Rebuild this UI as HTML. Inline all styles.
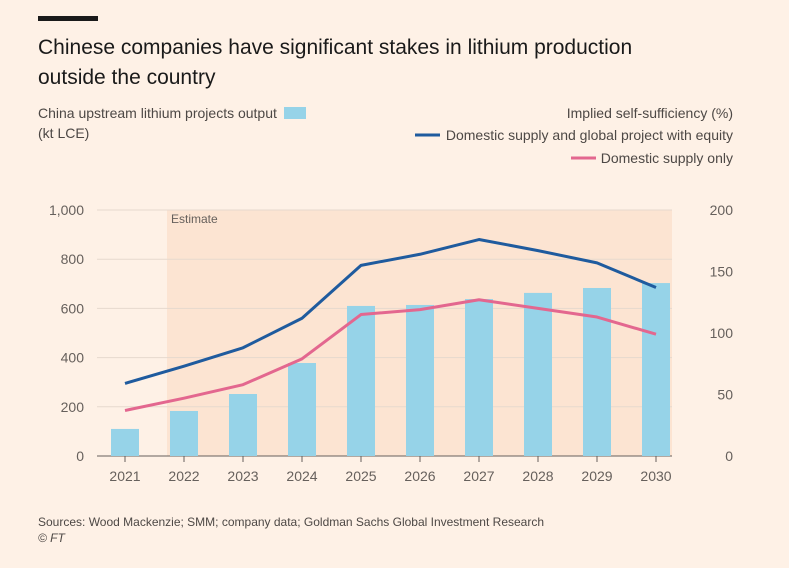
<!DOCTYPE html>
<html><head><meta charset="utf-8"><style>
body{margin:0;background:#fef1e6;width:789px;height:563px;overflow:hidden;font-family:"Liberation Sans",sans-serif;}
svg text{font-family:"Liberation Sans",sans-serif;}
</style></head><body>
<svg id="c" width="789" height="563">
<rect x="38" y="16" width="60" height="5" fill="#1a1a1a"/>
<text x="38" y="54" font-size="21" fill="#1a1a1a">Chinese companies have significant stakes in lithium production</text>
<text x="38" y="84" font-size="21" fill="#1a1a1a">outside the country</text>
<text x="38" y="118" font-size="14" fill="#4d4845">China upstream lithium projects output</text>
<text x="38" y="138" font-size="14" fill="#4d4845">(kt LCE)</text>
<rect x="284" y="107" width="22" height="12" fill="#96d3e8"/>
<text x="733" y="118" font-size="14" fill="#4d4845" text-anchor="end">Implied self-sufficiency (%)</text>
<line x1="415" y1="135" x2="440" y2="135" stroke="#1f5b9e" stroke-width="3"/>
<text x="733" y="140" font-size="14" fill="#4d4845" text-anchor="end">Domestic supply and global project with equity</text>
<line x1="571" y1="158" x2="596" y2="158" stroke="#e3678f" stroke-width="3"/>
<text x="733" y="163" font-size="14" fill="#4d4845" text-anchor="end">Domestic supply only</text>
<rect x="167" y="210" width="505" height="246" fill="#fce4d2"/>
<text x="171" y="223" font-size="12" fill="#66605c">Estimate</text>
<g id="grid"></g><g id="bars"></g><g id="lines"></g><g id="axes"></g>
<text x="38" y="526" font-size="12" fill="#4d4845">Sources: Wood Mackenzie; SMM; company data; Goldman Sachs Global Investment Research</text>
<text x="38" y="542" font-size="12" fill="#4d4845" font-style="italic">© FT</text>
</svg>
<script>
const years=["2021","2022","2023","2024","2025","2026","2027","2028","2029","2030"];
const output=[110,183,252,378,610,614,638,663,683,703];
const withEquity=[59,73,88,112,155,164,176,167,157,137];
const domesticOnly=[37,47,58,79,115,119,127,120,113,99];
const leftTicks=[0,200,400,600,800,1000];
const leftTickLabels=["0","200","400","600","800","1,000"];
const rightTicks=[0,50,100,150,200];
const NS="http://www.w3.org/2000/svg";
const x=i=>125+i*59, yL=v=>456-v*0.246, yR=v=>456-v*1.23;
function mk(t,a,p){const e=document.createElementNS(NS,t);for(const k in a)e.setAttribute(k,a[k]);p.appendChild(e);return e;}
const g=document.getElementById('grid'),b=document.getElementById('bars'),l=document.getElementById('lines'),ax=document.getElementById('axes');
leftTicks.forEach((v,i)=>{
 const ln=mk('line',{x1:97,x2:672,y1:yL(v),y2:yL(v),stroke:v===0?'#66605c':'#e6d9ce','stroke-width':1},g);
 
 
 const t=mk('text',{x:84,y:yL(v)+5,'font-size':14,fill:'#66605c','text-anchor':'end'},ax);t.textContent=leftTickLabels[i];
 
 
});
rightTicks.forEach(v=>{
 const t=mk('text',{x:733,y:yR(v)+5,'font-size':14,fill:'#66605c','text-anchor':'end'},ax);t.textContent=v;
 
 
});
years.forEach((yr,i)=>{
 const r=mk('rect',{x:x(i)-14,y:yL(output[i]),width:28,height:456-yL(output[i]),fill:'#96d3e8'},b);
 
 
 const tk=mk('line',{x1:x(i),x2:x(i),y1:456,y2:462,stroke:'#66605c'},ax);
 
 
 const t=mk('text',{x:x(i),y:481,'font-size':14,fill:'#66605c','text-anchor':'middle'},ax);t.textContent=yr;
 
 
});
const p1=mk('polyline',{points:withEquity.map((v,i)=>x(i)+','+yR(v)).join(' '),fill:'none',stroke:'#1f5b9e','stroke-width':3,'stroke-linejoin':'round'},l);


const p2=mk('polyline',{points:domesticOnly.map((v,i)=>x(i)+','+yR(v)).join(' '),fill:'none',stroke:'#e3678f','stroke-width':3,'stroke-linejoin':'round'},l);


</script>
</body></html>
